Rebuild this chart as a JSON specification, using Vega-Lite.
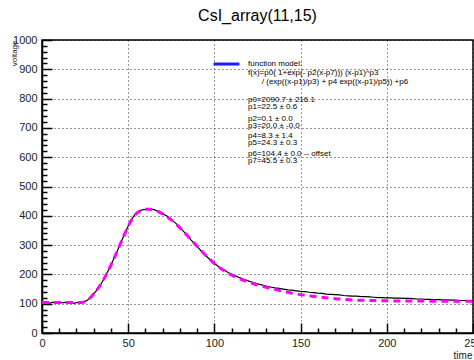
{
  "$schema": "https://vega.github.io/schema/vega-lite/v6.json",
  "width": 431,
  "height": 293,
  "autosize": {"type": "none"},
  "padding": {"left": 42, "top": 40, "right": 1, "bottom": 27},
  "background": "white",
  "config": {
    "font": "Liberation Sans",
    "view": {"stroke": "black", "strokeWidth": 1.5},
    "axis": {"labelFont": "Liberation Sans", "titleFont": "Liberation Sans"}
  },
  "title": {"text": "CsI_array(11,15)", "fontSize": 16, "fontWeight": "normal", "font": "Liberation Sans", "color": "black", "offset": 10},
  "datasets": {
    "hist": [
      {"t": 0, "v": 103}, {"t": 1.25, "v": 101}, {"t": 2.5, "v": 104}, {"t": 3.75, "v": 102}, {"t": 5, "v": 103},
      {"t": 6.25, "v": 105}, {"t": 7.5, "v": 102}, {"t": 8.75, "v": 104}, {"t": 10, "v": 101}, {"t": 11.25, "v": 104},
      {"t": 12.5, "v": 103}, {"t": 13.75, "v": 105}, {"t": 15, "v": 102}, {"t": 16.25, "v": 104}, {"t": 17.5, "v": 103},
      {"t": 18.75, "v": 101}, {"t": 20, "v": 104}, {"t": 21.25, "v": 103}, {"t": 22.5, "v": 105}, {"t": 23.75, "v": 104},
      {"t": 25, "v": 108}, {"t": 26.25, "v": 112}, {"t": 27.5, "v": 118}, {"t": 28.75, "v": 126}, {"t": 30, "v": 135},
      {"t": 31.25, "v": 142}, {"t": 32.5, "v": 153}, {"t": 33.75, "v": 163}, {"t": 35, "v": 175}, {"t": 36.25, "v": 188},
      {"t": 37.5, "v": 203}, {"t": 38.75, "v": 217}, {"t": 40, "v": 233}, {"t": 41.25, "v": 248}, {"t": 42.5, "v": 265},
      {"t": 43.75, "v": 281}, {"t": 45, "v": 298}, {"t": 46.25, "v": 316}, {"t": 47.5, "v": 333}, {"t": 48.75, "v": 349},
      {"t": 50, "v": 365}, {"t": 51.25, "v": 380}, {"t": 52.5, "v": 392}, {"t": 53.75, "v": 403}, {"t": 55, "v": 411},
      {"t": 56.25, "v": 416}, {"t": 57.5, "v": 419}, {"t": 58.75, "v": 421}, {"t": 60, "v": 422}, {"t": 61.25, "v": 424},
      {"t": 62.5, "v": 423}, {"t": 63.75, "v": 422}, {"t": 65, "v": 421}, {"t": 66.25, "v": 418}, {"t": 67.5, "v": 415},
      {"t": 68.75, "v": 412}, {"t": 70, "v": 408}, {"t": 71.25, "v": 403}, {"t": 72.5, "v": 399}, {"t": 73.75, "v": 393},
      {"t": 75, "v": 388}, {"t": 76.25, "v": 381}, {"t": 77.5, "v": 375}, {"t": 78.75, "v": 368}, {"t": 80, "v": 361},
      {"t": 81.25, "v": 352}, {"t": 82.5, "v": 344}, {"t": 83.75, "v": 336}, {"t": 85, "v": 328}, {"t": 86.25, "v": 319},
      {"t": 87.5, "v": 311}, {"t": 88.75, "v": 302}, {"t": 90, "v": 294}, {"t": 91.25, "v": 287}, {"t": 92.5, "v": 279},
      {"t": 93.75, "v": 272}, {"t": 95, "v": 264}, {"t": 96.25, "v": 257}, {"t": 97.5, "v": 250}, {"t": 98.75, "v": 244},
      {"t": 100, "v": 237}, {"t": 101.25, "v": 232}, {"t": 102.5, "v": 226}, {"t": 103.75, "v": 221}, {"t": 105, "v": 216},
      {"t": 106.25, "v": 213}, {"t": 107.5, "v": 208}, {"t": 108.75, "v": 204}, {"t": 110, "v": 201}, {"t": 111.25, "v": 197},
      {"t": 112.5, "v": 194}, {"t": 113.75, "v": 191}, {"t": 115, "v": 188}, {"t": 116.25, "v": 185}, {"t": 117.5, "v": 182},
      {"t": 118.75, "v": 180}, {"t": 120, "v": 177}, {"t": 121.25, "v": 175}, {"t": 122.5, "v": 172}, {"t": 123.75, "v": 170},
      {"t": 125, "v": 168}, {"t": 126.25, "v": 166}, {"t": 127.5, "v": 164}, {"t": 128.75, "v": 162}, {"t": 130, "v": 160},
      {"t": 132.5, "v": 157}, {"t": 135, "v": 154}, {"t": 137.5, "v": 152}, {"t": 140, "v": 150}, {"t": 142.5, "v": 147},
      {"t": 145, "v": 146}, {"t": 147.5, "v": 144}, {"t": 150, "v": 142}, {"t": 152.5, "v": 141}, {"t": 155, "v": 139},
      {"t": 157.5, "v": 138}, {"t": 160, "v": 136}, {"t": 162.5, "v": 135}, {"t": 165, "v": 133}, {"t": 167.5, "v": 132},
      {"t": 170, "v": 131}, {"t": 172.5, "v": 130}, {"t": 175, "v": 128}, {"t": 177.5, "v": 127}, {"t": 180, "v": 126},
      {"t": 182.5, "v": 126}, {"t": 185, "v": 124}, {"t": 187.5, "v": 124}, {"t": 190, "v": 123}, {"t": 192.5, "v": 122},
      {"t": 195, "v": 121}, {"t": 197.5, "v": 121}, {"t": 200, "v": 120}, {"t": 202.5, "v": 120}, {"t": 205, "v": 119},
      {"t": 207.5, "v": 119}, {"t": 210, "v": 118}, {"t": 212.5, "v": 118}, {"t": 215, "v": 117}, {"t": 217.5, "v": 116},
      {"t": 220, "v": 116}, {"t": 222.5, "v": 115}, {"t": 225, "v": 115}, {"t": 227.5, "v": 114}, {"t": 230, "v": 114},
      {"t": 232.5, "v": 113}, {"t": 235, "v": 113}, {"t": 237.5, "v": 112}, {"t": 240, "v": 112}, {"t": 242.5, "v": 111},
      {"t": 245, "v": 111}, {"t": 247.5, "v": 110}, {"t": 250, "v": 110}
    ],
    "fit": [
      {"t": 0, "v": 104}, {"t": 10, "v": 104}, {"t": 20, "v": 104}, {"t": 22.5, "v": 104.5}, {"t": 25, "v": 107},
      {"t": 27.5, "v": 117}, {"t": 30, "v": 133}, {"t": 32.5, "v": 152}, {"t": 35, "v": 175}, {"t": 37.5, "v": 202},
      {"t": 40, "v": 232}, {"t": 42.5, "v": 264}, {"t": 45, "v": 298}, {"t": 47.5, "v": 332}, {"t": 50, "v": 364},
      {"t": 52.5, "v": 391}, {"t": 55, "v": 409}, {"t": 57.5, "v": 418}, {"t": 60, "v": 422}, {"t": 62.5, "v": 422},
      {"t": 65, "v": 419}, {"t": 67.5, "v": 414}, {"t": 70, "v": 406}, {"t": 72.5, "v": 397}, {"t": 75, "v": 386},
      {"t": 77.5, "v": 373}, {"t": 80, "v": 359}, {"t": 82.5, "v": 344}, {"t": 85, "v": 328}, {"t": 87.5, "v": 312},
      {"t": 90, "v": 296}, {"t": 92.5, "v": 280}, {"t": 95, "v": 265}, {"t": 97.5, "v": 251}, {"t": 100, "v": 237},
      {"t": 105, "v": 215}, {"t": 110, "v": 198}, {"t": 115, "v": 184}, {"t": 120, "v": 174}, {"t": 125, "v": 164},
      {"t": 130, "v": 156}, {"t": 135, "v": 149}, {"t": 140, "v": 142}, {"t": 145, "v": 136}, {"t": 150, "v": 131},
      {"t": 155, "v": 127}, {"t": 160, "v": 123}, {"t": 165, "v": 120}, {"t": 170, "v": 117}, {"t": 175, "v": 115},
      {"t": 180, "v": 113}, {"t": 190, "v": 111}, {"t": 200, "v": 110}, {"t": 210, "v": 109}, {"t": 220, "v": 109},
      {"t": 235, "v": 108}, {"t": 250, "v": 108}
    ],
    "legendline": [{"t": 99.5, "v": 918}, {"t": 114.5, "v": 918}],
    "legendtext": [
      {"t": 119.5, "v": 918, "label": "function model:"},
      {"t": 119.5, "v": 886, "label": "f(x)=p0( 1+exp(- p2(x-p7))) (x-p1)^p3"},
      {"t": 127.5, "v": 856, "label": "/ (exp((x-p1)/p3) + p4 exp((x-p1)/p5)) +p6"},
      {"t": 119.5, "v": 794, "label": "p0=2090.7 ± 216.1"},
      {"t": 119.5, "v": 770, "label": "p1=22.5 ± 0.6"},
      {"t": 119.5, "v": 732, "label": "p2=0.1 ± 0.0"},
      {"t": 119.5, "v": 708, "label": "p3=20.0 ± -0.0"},
      {"t": 119.5, "v": 671, "label": "p4=8.3 ± 1.4"},
      {"t": 119.5, "v": 648, "label": "p5=24.3 ± 0.3"},
      {"t": 119.5, "v": 612, "label": "p6=104.4 ± 0.0 -- offset"},
      {"t": 119.5, "v": 588, "label": "p7=45.5 ± 0.3"}
    ]
  },
  "resolve": {"axis": {"x": "independent", "y": "independent"}},
  "layer": [
    {
      "data": {"name": "hist"},
      "mark": {"type": "line", "color": "black", "strokeWidth": 1.2, "interpolate": "linear"},
      "encoding": {
        "x": {"field": "t", "type": "quantitative", "scale": {"domain": [0, 250], "nice": false, "zero": false},
          "axis": {"orient": "bottom", "values": [0, 50, 100, 150, 200, 250], "format": "d", "title": "time", "titleFontSize": 10, "titleFontWeight": "normal", "titleColor": "#222",
            "titleAnchor": "end", "titleAlign": "right", "titleBaseline": "middle", "titleX": 430, "titleY": 22,
            "labelFontSize": 11, "labelColor": "#222", "labelPadding": 14, "tickSize": -10, "tickColor": "black", "tickWidth": 1.5,
            "domainColor": "black", "domainWidth": 1.5, "grid": true, "gridColor": "black", "gridDash": [1, 3], "gridWidth": 1, "gridOpacity": 0.8,
            "labelFlush": false, "labelOverlap": false}},
        "y": {"field": "v", "type": "quantitative", "scale": {"domain": [0, 1000], "nice": false},
          "axis": {"orient": "left", "values": [0, 100, 200, 300, 400, 500, 600, 700, 800, 900, 1000], "format": "d", "title": "voltage", "titleFontSize": 8, "titleFontWeight": "normal", "titleColor": "#222",
            "titleAngle": -90, "titleAlign": "right", "titleBaseline": "middle", "titleX": -28, "titleY": 0,
            "labelFontSize": 11, "labelColor": "#222", "labelPadding": 15, "tickSize": -10, "tickColor": "black", "tickWidth": 1.5,
            "domainColor": "black", "domainWidth": 1.5, "grid": true, "gridColor": "black", "gridDash": [1, 3], "gridWidth": 1, "gridOpacity": 0.8,
            "labelFlush": false, "labelOverlap": false}}
      }
    },
    {
      "data": {"name": "fit"},
      "mark": {"type": "line", "color": "#ff00ff", "strokeWidth": 3, "strokeDash": [7, 5], "interpolate": "monotone"},
      "encoding": {
        "x": {"field": "t", "type": "quantitative", "scale": {"domain": [0, 250], "nice": false, "zero": false},
          "axis": {"orient": "bottom", "values": [10, 20, 30, 40, 60, 70, 80, 90, 110, 120, 130, 140, 160, 170, 180, 190, 210, 220, 230, 240],
            "labels": false, "title": null, "grid": false, "domain": false, "tickSize": -5, "tickColor": "black", "tickWidth": 1.5}},
        "y": {"field": "v", "type": "quantitative", "scale": {"domain": [0, 1000], "nice": false},
          "axis": {"orient": "left", "values": [20, 40, 60, 80, 120, 140, 160, 180, 220, 240, 260, 280, 320, 340, 360, 380, 420, 440, 460, 480, 520, 540, 560, 580, 620, 640, 660, 680, 720, 740, 760, 780, 820, 840, 860, 880, 920, 940, 960, 980],
            "labels": false, "title": null, "grid": false, "domain": false, "tickSize": -5, "tickColor": "black", "tickWidth": 1.5}}
      }
    },
    {
      "data": {"name": "legendline"},
      "mark": {"type": "line", "color": "#1a1aff", "strokeWidth": 3},
      "encoding": {
        "x": {"field": "t", "type": "quantitative", "axis": null},
        "y": {"field": "v", "type": "quantitative", "axis": null}
      }
    },
    {
      "data": {"name": "legendtext"},
      "mark": {"type": "text", "align": "left", "baseline": "middle", "fontSize": 8, "font": "Liberation Sans", "color": "black"},
      "encoding": {
        "x": {"field": "t", "type": "quantitative", "axis": null},
        "y": {"field": "v", "type": "quantitative", "axis": null},
        "text": {"field": "label"}
      }
    }
  ]
}
